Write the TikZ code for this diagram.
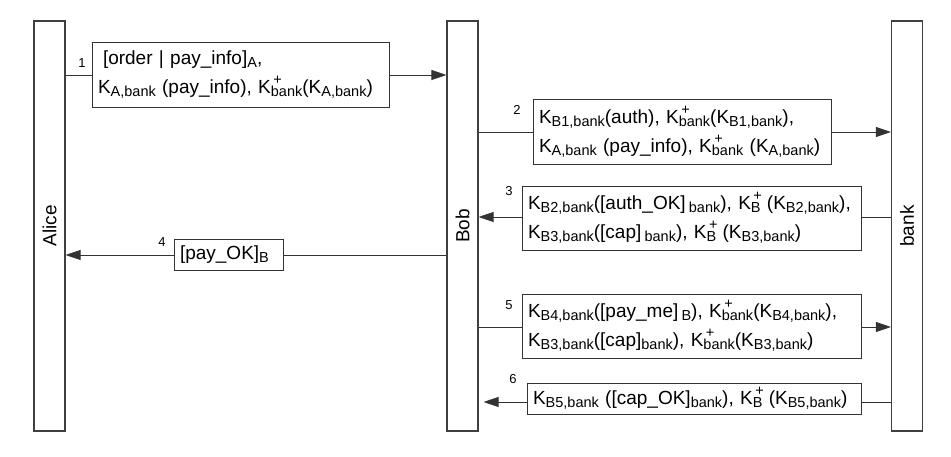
\documentclass[tikz,border=0pt]{standalone}
\usepackage{fontspec}
\setmainfont{Liberation Sans}
\usepackage{graphicx}
\usetikzlibrary{arrows.meta, positioning}
\newcommand{\ksub}[1]{\raisebox{-3.5pt}{\fontsize{14.5}{14.5}\selectfont #1}}
\newcommand{\kpub}[2]{\raisebox{-3.5pt}{\fontsize{14.5}{14.5}\selectfont\rlap{\hspace{2.5pt}\raisebox{12pt}{#1}}#2}}
\tikzstyle{lifeline} = [draw=black!75, fill=white, line width=1.1pt, rectangle, minimum width=31pt, minimum height=410pt, inner sep=0pt, font=\fontsize{19}{22}\selectfont]
\tikzstyle{msgbox} = [draw=black!80, fill=white, line width=0.8pt, rectangle, align=left, inner xsep=6pt, inner ysep=2pt, font=\fontsize{19}{29}\selectfont]
\tikzstyle{msgnum} = [font=\fontsize{13}{13}\selectfont, inner sep=0pt]
\tikzstyle{msgline} = [draw=black!80, line width=0.8pt]
\tikzstyle{msgarrow} = [msgline, -{Triangle[length=15pt,width=10pt]}]

\begin{document}
\begin{tikzpicture}[x=1pt, y=-1pt]
	\useasboundingbox (0,0) rectangle (951,457);
	% lifelines
	\node [lifeline] (alice) at (49.5,226) {\rotatebox{90}{Alice}};
	\node [lifeline] (bob) at (462.5,226) {\rotatebox{90}{Bob}};
	\node [lifeline] (bank) at (907,226) {\rotatebox{90}{bank}};
	% heights of the messages
	\coordinate (y1) at (0,75);
	\coordinate (y2) at (0,132);
	\coordinate (y3) at (0,217);
	\coordinate (y4) at (0,255);
	\coordinate (y5) at (0,327);
	\coordinate (y6) at (0,402);
	% messages
	\node [msgbox, text width=285pt, minimum height=65pt] (box1) at (240.5,74.5) {%
		\hspace{5pt}[order | pay\_info]\ksub{A},\\
		K\ksub{A,bank} (pay\_info), K\kpub{+}{bank}(K\ksub{A,bank})};
	\node [msgbox, text width=286pt, minimum height=65pt] (box2) at (682,132) {%
		K\ksub{B1,bank}(auth), K\kpub{+}{bank}(K\ksub{B1,bank}),\\
		K\ksub{A,bank} (pay\_info), K\kpub{+}{bank} (K\ksub{A,bank})};
	\node [msgbox, text width=327pt, minimum height=64pt] (box3) at (691.5,218) {%
		K\ksub{B2,bank}([auth\_OK]\,\ksub{bank}), K\kpub{+}{B} (K\ksub{B2,bank}),\\
		K\ksub{B3,bank}([cap]\,\ksub{bank}), K\kpub{+}{B} (K\ksub{B3,bank})};
	\node [msgbox, text width=97pt, minimum height=31pt] (box4) at (228.5,254.5) {[pay\_OK]\ksub{B}};
	\node [msgbox, text width=327pt, minimum height=64pt] (box5) at (691.5,326) {%
		K\ksub{B4,bank}([pay\_me]\,\ksub{B}), K\kpub{+}{bank}(K\ksub{B4,bank}),\\
		K\ksub{B3,bank}([cap]\ksub{bank}), K\kpub{+}{bank}(K\ksub{B3,bank})};
	\node [msgbox, text width=322pt, minimum height=31pt] (box6) at (694,398.5) {%
		K\ksub{B5,bank} ([cap\_OK]\ksub{bank}), K\kpub{+}{B} (K\ksub{B5,bank})};
	% numbers
	\node [msgnum] (n1) at (82,63) {1};
	\node [msgnum] (n2) at (517,110) {2};
	\node [msgnum] (n3) at (509,191) {3};
	\node [msgnum] (n4) at (162,242) {4};
	\node [msgnum] (n5) at (509,305) {5};
	\node [msgnum] (n6) at (513,379) {6};
	% connectors
	\draw [msgline] (y1 -| alice.east) -- (y1 -| box1.west);
	\draw [msgarrow] (y1 -| box1.east) -- (y1 -| bob.west);
	\draw [msgline] (y2 -| bob.east) -- (y2 -| box2.west);
	\draw [msgarrow] (y2 -| box2.east) -- (y2 -| bank.west);
	\draw [msgline] (y3 -| bank.west) -- (y3 -| box3.east);
	\draw [msgarrow] (y3 -| box3.west) -- (y3 -| bob.east);
	\draw [msgline] (y4 -| bob.west) -- (y4 -| box4.east);
	\draw [msgarrow] (y4 -| box4.west) -- (y4 -| alice.east);
	\draw [msgline] (y5 -| bob.east) -- (y5 -| box5.west);
	\draw [msgarrow] (y5 -| box5.east) -- (y5 -| bank.west);
	\draw [msgline] (y6 -| bank.west) -- (y6 -| box6.east);
	\draw [msgarrow, shorten >=5pt] (y6 -| box6.west) -- (y6 -| bob.east);
\end{tikzpicture}
\end{document}
